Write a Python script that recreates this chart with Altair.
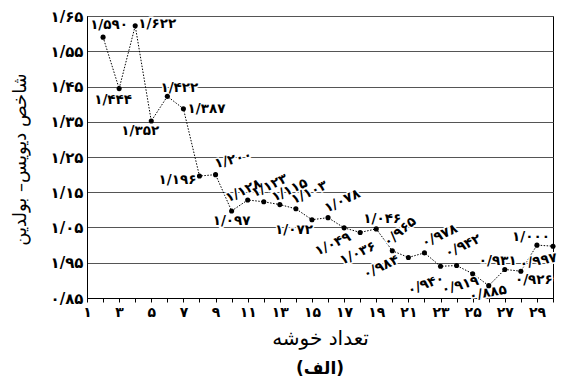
import altair as alt
import pandas as pd

# ---- data ----
clusters = list(range(2, 31))
db_index = [1.590, 1.444, 1.622, 1.352, 1.422, 1.387, 1.196, 1.200, 1.097,
            1.128, 1.123, 1.115, 1.103, 1.072, 1.078, 1.049, 1.036, 1.046,
            0.984, 0.965, 0.978, 0.940, 0.942, 0.919, 0.885, 0.931, 0.926,
            1.000, 0.997]

x_tick_values = list(range(1, 31))
x_label_values = [1, 3, 5, 7, 9, 11, 13, 15, 17, 19, 21, 23, 25, 27, 29]
x_tick_labels = ['۱', '۳', '۵', '۷', '۹', '۱۱', '۱۳', '۱۵', '۱۷', '۱۹',
                 '۲۱', '۲۳', '۲۵', '۲۷', '۲۹']
y_tick_values = [0.85, 0.95, 1.05, 1.15, 1.25, 1.35, 1.45, 1.55, 1.65]
y_tick_labels = ['۰/۸۵', '۱/۹۵', '۱/۰۵', '۱/۱۵', '۱/۲۵', '۱/۳۵', '۱/۴۵',
                 '۱/۵۵', '۱/۶۵']

x_title = 'تعداد خوشه'
y_title = 'شاخص دیویس– بولدین'
chart_title = '(الف)'

# annotation placement of each point label: (dx, dy, angle)
label_layout = {
    2: (6, -12, 0), 3: (-6, 11, 0), 4: (22, -2, 0), 5: (-11, 10, 0),
    6: (12, -8, 0), 7: (23, 0, 0), 8: (-22, 4, 0), 9: (21, -10, 345),
    10: (0, 10, 0), 11: (0, -10, 335), 12: (12, -12, 335), 13: (15, -9, 335),
    14: (19, -9, 335), 15: (-18, 10, 0), 16: (20, -9, 335), 17: (-17, 10, 335),
    18: (-11, 18, 335), 19: (6, -10, 0), 20: (-17, 10, 335), 21: (10, -25, 320),
    22: (21, -9, 335), 23: (-20, 12, 340), 24: (14, -15, 335), 25: (-15, 8, 345),
    26: (-2, 7, 350), 27: (-7, -8, 0), 28: (13, 9, 0), 29: (-6, -8, 0),
    30: (-17, 12, 350),
}

FONT = 'DejaVu Sans'
fa_digits = str.maketrans('0123456789.', '۰۱۲۳۴۵۶۷۸۹/')

df = pd.DataFrame({
    'cluster': clusters,
    'db': db_index,
    'label': [f'{v:.3f}'.translate(fa_digits) for v in db_index],
})

x_label_expr = (
    f"indexof({x_label_values}, datum.value) >= 0 ? "
    f"{x_tick_labels}[indexof({x_label_values}, datum.value)] : ''"
)
y_label_expr = f"{y_tick_labels}[round((datum.value - 0.85) * 10)]"

x_enc = alt.X(
    'cluster:Q',
    scale=alt.Scale(domain=[1, 30], nice=False, zero=False),
    axis=alt.Axis(
        values=x_tick_values, labelExpr=x_label_expr, grid=False,
        tickSize=4, tickColor='black', domainColor='black',
        labelFont=FONT, labelFontSize=14, labelFontWeight='bold',
        labelColor='black', labelPadding=3, labelFlush=False,
        title=x_title, titleFont=FONT, titleFontSize=20,
        titleFontWeight='normal', titleColor='black',
        titleY=40, titleBaseline='middle',
    ),
)
y_enc = alt.Y(
    'db:Q',
    scale=alt.Scale(domain=[0.85, 1.65], nice=False, zero=False),
    axis=alt.Axis(
        values=y_tick_values, labelExpr=y_label_expr, grid=True,
        gridColor='#555555', gridWidth=1.2, ticks=False,
        domainColor='black', labelFont=FONT, labelFontSize=15,
        labelFontWeight='bold', labelColor='black', labelPadding=4,
        labelFlush=False,
        title=y_title, titleFont=FONT, titleFontSize=18,
        titleFontWeight='normal', titleColor='black',
        titleX=-67, titleY=143, titleBaseline='middle', titleAlign='center',
        titleAngle=270,
    ),
)

base = alt.Chart(df)

line = base.mark_line(color='black', strokeWidth=1, strokeDash=[1.5, 1.5]).encode(
    x=x_enc, y=y_enc)
points = base.mark_circle(color='black', size=26, opacity=1).encode(
    x=x_enc, y=y_enc)

halos = []
texts = []
for c in clusters:
    dx, dy, ang = label_layout[c]
    common = dict(dx=dx, dy=dy, angle=ang, align='center', baseline='middle',
                  font=FONT, fontSize=13.5, fontWeight='bold')
    sub = base.transform_filter(alt.datum.cluster == c)
    halos.append(sub.mark_text(color='white', stroke='white', strokeWidth=3,
                               **common).encode(x=x_enc, y=y_enc, text='label:N'))
    texts.append(sub.mark_text(color='black', **common).encode(
        x=x_enc, y=y_enc, text='label:N'))

chart = alt.layer(line, *halos, *texts, points).properties(
    width=466, height=282,
    title=alt.TitleParams(chart_title, orient='bottom', font=FONT,
                          fontSize=17, fontWeight='bold', color='black',
                          offset=13),
    autosize=alt.AutoSizeParams(type='none'),
    padding={'left': 79, 'top': 8, 'right': 5, 'bottom': 81},
).configure_view(stroke='black', strokeWidth=1)

chart.save('out.html', embed_options={'renderer': 'svg', 'actions': False})
